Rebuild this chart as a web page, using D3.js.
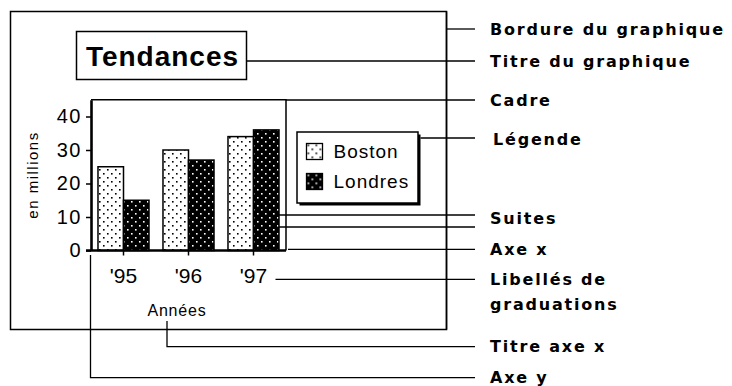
<!DOCTYPE html>
<html>
<head>
<meta charset="utf-8">
<script src="https://cdn.jsdelivr.net/npm/d3@7"></script>
<style>
  html, body { margin: 0; padding: 0; background: #fff; }
  svg { display: block; }
  .sans { font-family: "Liberation Sans", Arial, sans-serif; }
  .callout { font-family: "DejaVu Sans", Verdana, sans-serif; font-weight: bold; font-size: 16px; letter-spacing: 1.8px; }
</style>
</head>
<body>
<svg id="chart" width="732" height="386"></svg>
<script>
// Chart data
const years = ["'95", "'96", "'97"];
const series = ["Boston", "Londres"];
const boston = [25, 30, 34];
const londres = [15, 27, 36];
const yTicks = [0, 10, 20, 30, 40];
const chartTitle = "Tendances";
const yTitle = "en millions";
const xTitle = "Années";

// Callout texts on the right
const calloutTexts = [
  "Bordure du graphique",
  "Titre du graphique",
  "Cadre",
  "Légende",
  "Suites",
  "Axe x",
  "Libellés de|graduations",
  "Titre axe x",
  "Axe y"
];

const svg = d3.select("#chart");

// Patterns: light dotted and dark dotted
const defs = svg.append("defs");
function dotPattern(id, bg, fg) {
  const p = defs.append("pattern")
    .attr("id", id).attr("patternUnits", "userSpaceOnUse")
    .attr("width", 8).attr("height", 8);
  p.append("rect").attr("width", 8).attr("height", 8).attr("fill", bg);
  p.append("rect").attr("x", 1).attr("y", 1).attr("width", 1.6).attr("height", 1.6).attr("fill", fg);
  p.append("rect").attr("x", 5).attr("y", 5).attr("width", 1.6).attr("height", 1.6).attr("fill", fg);
}
dotPattern("pat-boston", "#fff", "#000");
dotPattern("pat-londres", "#000", "#fff");
const fills = { Boston: "url(#pat-boston)", Londres: "url(#pat-londres)" };

// Layout
const plot = { left: 91, right: 286, top: 99.75, bottom: 250.5 };
const border = { x0: 10.5, y0: 11.5, x1: 446.5, y1: 329.5 };
const leaderEnd = 475;
const calloutX = 490;

// Scales
const x = d3.scaleBand().domain(years).range([plot.left, plot.right])
  .paddingInner(0.215).paddingOuter(0.1075);
const x1 = d3.scaleBand().domain(series).range([0, x.bandwidth()]);
const y = d3.scaleLinear().domain([0, 45]).range([plot.bottom, plot.top]);

const rows = years.map((yr, i) => ({ year: yr, Boston: boston[i], Londres: londres[i] }));

// Leader line helper (white halo under a thin black line)
const leaders = svg.append("g");
function leader(d) {
  leaders.append("path").attr("d", d).attr("fill", "none")
    .attr("stroke", "#fff").attr("stroke-width", 4);
  leaders.append("path").attr("d", d).attr("fill", "none")
    .attr("stroke", "#000").attr("stroke-width", 1.3);
}

// Chart border
svg.append("rect")
  .attr("x", border.x0).attr("y", border.y0)
  .attr("width", border.x1 - border.x0).attr("height", border.y1 - border.y0)
  .attr("fill", "none").attr("stroke", "#000").attr("stroke-width", 1.5);

// Title box
const titleBox = { x0: 76.5, y0: 31.5, x1: 246.5, y1: 79.5 };
svg.append("rect")
  .attr("x", titleBox.x0).attr("y", titleBox.y0)
  .attr("width", titleBox.x1 - titleBox.x0).attr("height", titleBox.y1 - titleBox.y0)
  .attr("fill", "#fff").attr("stroke", "#000").attr("stroke-width", 1.5);
svg.append("text").attr("class", "sans")
  .attr("x", (titleBox.x0 + titleBox.x1) / 2 + 1).attr("y", 65.5)
  .attr("text-anchor", "middle")
  .attr("font-size", 28).attr("font-weight", "bold").attr("letter-spacing", 1)
  .text(chartTitle);

// Plot frame (top and right edges)
svg.append("path")
  .attr("d", `M${plot.left},${plot.top}H${plot.right}V${plot.bottom}`)
  .attr("fill", "none").attr("stroke", "#000").attr("stroke-width", 1.5);

// Bars
const groups = svg.append("g").selectAll("g").data(rows).join("g")
  .attr("transform", d => `translate(${x(d.year)},0)`);
groups.selectAll("rect")
  .data(d => series.map(s => ({ key: s, value: d[s] })))
  .join("rect")
  .attr("x", d => x1(d.key))
  .attr("y", d => y(d.value))
  .attr("width", x1.bandwidth())
  .attr("height", d => y(0) - y(d.value))
  .attr("fill", d => fills[d.key])
  .attr("stroke", "#000").attr("stroke-width", 1.5);

// Y axis
const yAxis = svg.append("g")
  .attr("transform", `translate(${plot.left},0)`)
  .call(d3.axisLeft(y).tickValues(yTicks).tickSize(5).tickSizeOuter(0).tickPadding(4));
yAxis.select(".domain").attr("stroke-width", 2.6);
yAxis.selectAll(".tick line").attr("stroke-width", 1.5);
yAxis.selectAll(".tick text")
  .attr("class", "sans").attr("font-size", 20).attr("letter-spacing", 1.5)
  .attr("fill", "#000");

// X axis
const xAxis = svg.append("g")
  .attr("transform", `translate(0,${plot.bottom})`)
  .call(d3.axisBottom(x).tickSize(5).tickSizeOuter(0).tickPadding(13));
xAxis.select(".domain").attr("stroke-width", 2.6)
  .attr("d", `M${plot.left - 5},0H${plot.right}`);
xAxis.selectAll(".tick line").attr("stroke-width", 1.5);
xAxis.selectAll(".tick text")
  .attr("class", "sans").attr("font-size", 21).attr("fill", "#000");

// Axis titles
svg.append("text").attr("class", "sans")
  .attr("transform", `translate(38,175) rotate(-90)`)
  .attr("text-anchor", "middle").attr("font-size", 15).attr("letter-spacing", 1.5)
  .text(yTitle);
const xTitleX = 177;
svg.append("text").attr("class", "sans")
  .attr("x", xTitleX).attr("y", 316)
  .attr("text-anchor", "middle").attr("font-size", 16).attr("letter-spacing", 0.8)
  .text(xTitle);

// Legend with drop shadow
const legendBox = { x0: 297, y0: 132, x1: 418, y1: 203 };
svg.append("rect")
  .attr("x", legendBox.x0 + 2.5).attr("y", legendBox.y0 + 2.5)
  .attr("width", legendBox.x1 - legendBox.x0).attr("height", legendBox.y1 - legendBox.y0)
  .attr("fill", "#000");
svg.append("rect")
  .attr("x", legendBox.x0).attr("y", legendBox.y0)
  .attr("width", legendBox.x1 - legendBox.x0).attr("height", legendBox.y1 - legendBox.y0)
  .attr("fill", "#fff").attr("stroke", "#000").attr("stroke-width", 1.5);
const legendItems = svg.append("g").selectAll("g").data(series).join("g")
  .attr("transform", (d, i) => `translate(306.5,${143.5 + i * 30})`);
legendItems.append("rect")
  .attr("width", 16).attr("height", 16)
  .attr("fill", d => fills[d]).attr("stroke", "#000").attr("stroke-width", 1.3);
legendItems.append("text").attr("class", "sans")
  .attr("x", 27).attr("y", 14.8)
  .attr("font-size", 19).attr("letter-spacing", 1)
  .text(d => d);

// Leader lines from each chart element to its callout
const bw = x1.bandwidth();
const last = years[years.length - 1];
const leaderY = {
  border: 29, title: 61, frame: 100, legend: 138,
  suite1: 215, suite2: 227, axis: 249.3, ticks: 279.3, xTitle: 346.7, yAxis: 377.7
};
leader(`M${border.x1},${leaderY.border}H${leaderEnd}`);
leader(`M${titleBox.x1},${leaderY.title}H${leaderEnd}`);
leader(`M${plot.right},${leaderY.frame}H${leaderEnd}`);
leader(`M${legendBox.x1 + 2.5},${leaderY.legend}H${leaderEnd}`);
leader(`M${x(last) + x1("Londres") + bw / 2},${leaderY.suite1}H${leaderEnd}`);
leader(`M${x(last) + x1("Boston") + bw / 2},${leaderY.suite2}H${leaderEnd}`);
leader(`M${plot.right + 2},${leaderY.axis}H${leaderEnd}`);
leader(`M${x(last) + x.bandwidth() / 2 + 22},${leaderY.ticks}H${leaderEnd}`);
leader(`M${xTitleX - 10},321V${leaderY.xTitle}H${leaderEnd}`);
leader(`M${plot.left - 0.5},255V${leaderY.yAxis}H${leaderEnd}`);

// Border right edge drawn again over the leader halos
svg.append("path")
  .attr("d", `M${border.x1},${border.y0}V${border.y1}`)
  .attr("stroke", "#000").attr("stroke-width", 1.5);

// Callout labels
const calloutCenters = [29, 61, 100, 139, 218.5, 249, 279, 346.5, 377.5];
const callouts = svg.append("g").selectAll("text").data(calloutTexts).join("text")
  .attr("class", "callout")
  .attr("x", (d, i) => i === 3 ? calloutX + 3 : calloutX)
  .attr("y", (d, i) => calloutCenters[i] + 5.8);
callouts.each(function (d) {
  const parts = d.split("|");
  const t = d3.select(this);
  parts.forEach((p, k) => {
    t.append("tspan").attr("x", t.attr("x")).attr("dy", k === 0 ? 0 : 25).text(p);
  });
});
</script>
</body>
</html>
